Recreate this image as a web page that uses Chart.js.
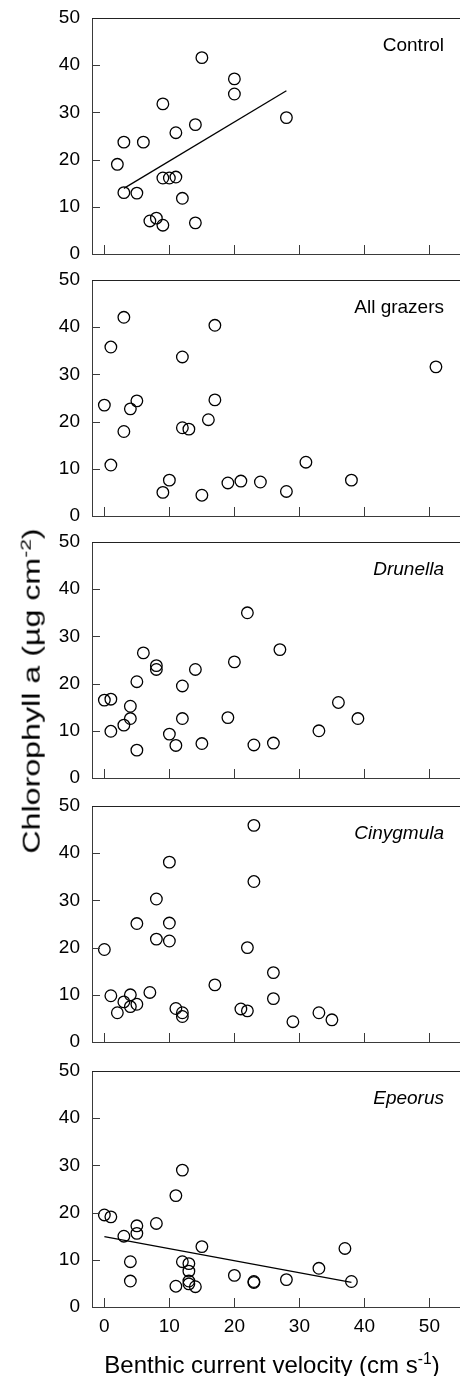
<!DOCTYPE html>
<html>
<head>
<meta charset="utf-8">
<script src="https://cdn.jsdelivr.net/npm/chart.js@4.4.0/dist/chart.umd.min.js"></script>
<style>
  body { margin: 0; background: #fff; }
  #wrap { position: relative; width: 460px; height: 1376px; overflow: hidden; font-family: "Liberation Sans", Arial, sans-serif; }
  canvas { position: absolute; left: 0; }
  .ytitle { position: absolute; left: 31px; top: 691px; font-size: 23px; white-space: nowrap;
            transform: translate(-50%, -50%) rotate(-90deg) scaleX(1.4); }
  .xtitle { position: absolute; left: 272px; top: 1364px; font-size: 24px; white-space: nowrap;
            transform: translate(-50%, -50%); }
  sup { font-size: 0.65em; }
</style>
</head>
<body>
<div id="wrap">
  <canvas id="c0" width="460" height="264" style="top:4px"></canvas>
  <canvas id="c1" width="460" height="264" style="top:266px"></canvas>
  <canvas id="c2" width="460" height="264" style="top:528px"></canvas>
  <canvas id="c3" width="460" height="264" style="top:792px"></canvas>
  <canvas id="c4" width="460" height="290" style="top:1057px"></canvas>
  <div class="ytitle">Chlorophyll a (µg cm<sup>-2</sup>)</div>
  <div class="xtitle">Benthic current velocity (cm s<sup>-1</sup>)</div>
</div>
<script>
// tick values
var xTicks = [0, 10, 20, 30, 40, 50];
var yTicks = [0, 10, 20, 30, 40, 50];

// Control
var controlX = [2, 3, 3, 5, 6, 7, 8, 9, 9, 9, 10, 11, 11, 12, 14, 14, 15, 20, 20, 28];
var controlY = [19.0, 23.7, 13.0, 12.9, 23.7, 7.0, 7.6, 6.1, 31.8, 16.1, 16.1, 16.3, 25.7, 11.8, 27.4, 6.6, 41.6, 37.1, 33.9, 28.9];
var controlFitX = [3, 28];
var controlFitY = [13.9, 34.6];

// All grazers
var grazersX = [0, 1, 1, 3, 3, 4, 5, 9, 10, 12, 12, 13, 15, 16, 17, 17, 19, 21, 24, 28, 31, 38, 51];
var grazersY = [23.5, 35.8, 10.8, 42.1, 17.9, 22.7, 24.4, 5.0, 7.6, 33.7, 18.7, 18.4, 4.4, 20.4, 40.4, 24.6, 7.0, 7.4, 7.2, 5.2, 11.4, 7.6, 31.6];

// Drunella
var drunellaX = [0, 1, 1, 3, 4, 4, 5, 5, 6, 8, 8, 10, 11, 12, 12, 14, 15, 19, 20, 22, 23, 26, 27, 33, 36, 39];
var drunellaY = [16.5, 16.7, 9.9, 11.2, 15.2, 12.6, 20.4, 5.9, 26.5, 23.8, 23.0, 9.3, 6.9, 19.5, 12.6, 23.0, 7.3, 12.8, 24.6, 35.0, 7.0, 7.4, 27.2, 10.0, 16.0, 12.6];

// Cinygmula
var cinygmulaX = [0, 1, 2, 3, 4, 4, 5, 5, 7, 8, 8, 10, 10, 10, 11, 12, 12, 17, 21, 22, 22, 23, 23, 26, 26, 29, 33, 35];
var cinygmulaY = [19.6, 9.8, 6.2, 8.5, 10.0, 7.5, 8.0, 25.1, 10.5, 30.3, 21.8, 38.1, 25.2, 21.4, 7.1, 6.2, 5.4, 12.1, 7.0, 20.0, 6.6, 45.9, 34.0, 14.7, 9.2, 4.3, 6.2, 4.7];

// Epeorus
var epeorusX = [0, 1, 3, 4, 4, 5, 5, 8, 11, 11, 12, 12, 13, 13, 13, 13, 14, 15, 20, 23, 23, 28, 33, 37, 38];
var epeorusY = [19.5, 19.1, 15.0, 9.6, 5.5, 17.2, 15.6, 17.7, 23.6, 4.4, 29.0, 9.6, 9.2, 7.6, 5.5, 4.9, 4.3, 12.8, 6.7, 5.4, 5.2, 5.8, 8.2, 12.4, 5.4];
var epeorusFitX = [0, 38];
var epeorusFitY = [14.9, 5.2];

var panels = [
  { id: 'c0', label: 'Control', italic: false, xs: controlX, ys: controlY, fitX: controlFitX, fitY: controlFitY },
  { id: 'c1', label: 'All grazers', italic: false, xs: grazersX, ys: grazersY },
  { id: 'c2', label: 'Drunella', italic: true, xs: drunellaX, ys: drunellaY },
  { id: 'c3', label: 'Cinygmula', italic: true, xs: cinygmulaX, ys: cinygmulaY },
  { id: 'c4', label: 'Epeorus', italic: true, xs: epeorusX, ys: epeorusY, fitX: epeorusFitX, fitY: epeorusFitY }
];

Chart.defaults.font.family = '"Liberation Sans", Arial, sans-serif';
Chart.defaults.color = '#000';

var AXIS = '#3a3a3a';

// inside tick marks, top frame line and panel name
var panelDeco = {
  id: 'panelDeco',
  afterDatasetsDraw: function (chart, args, opts) {
    var ctx = chart.ctx, a = chart.chartArea;
    var xs = chart.scales.x, ys = chart.scales.y;
    ctx.save();
    ctx.lineWidth = 1;
    ctx.strokeStyle = '#222';
    ctx.beginPath();
    ctx.moveTo(a.left, a.top + 0.5);
    ctx.lineTo(a.right, a.top + 0.5);
    ctx.stroke();
    ctx.strokeStyle = AXIS;
    ctx.beginPath();
    xTicks.forEach(function (v) {
      var px = Math.round(xs.getPixelForValue(v)) + 0.5;
      ctx.moveTo(px, a.bottom);
      ctx.lineTo(px, a.bottom - 9);
    });
    yTicks.slice(1, -1).forEach(function (v) {
      var py = Math.round(ys.getPixelForValue(v)) + 0.5;
      ctx.moveTo(a.left, py);
      ctx.lineTo(a.left + 8, py);
    });
    ctx.stroke();
    ctx.fillStyle = '#000';
    ctx.font = (opts.italic ? 'italic ' : '') + '19px "Liberation Sans", Arial, sans-serif';
    ctx.textAlign = 'right';
    ctx.textBaseline = 'middle';
    ctx.fillText(opts.text, 444, a.top + 28);
    ctx.restore();
  }
};

panels.forEach(function (p, i) {
  var last = i === panels.length - 1;
  var pts = p.xs.map(function (x, k) { return { x: x, y: p.ys[k] }; });
  var datasets = [{
    data: pts,
    pointStyle: 'circle',
    pointRadius: 5.8,
    pointHoverRadius: 5.8,
    borderWidth: 1.3,
    borderColor: '#000',
    backgroundColor: 'rgba(255,255,255,0)'
  }];
  if (p.fitX) {
    datasets.push({
      type: 'line',
      data: p.fitX.map(function (x, k) { return { x: x, y: p.fitY[k] }; }),
      showLine: true,
      pointRadius: 0,
      borderColor: '#000',
      borderWidth: 1.3,
      fill: false
    });
  }
  new Chart(document.getElementById(p.id), {
    type: 'scatter',
    data: { datasets: datasets },
    options: {
      responsive: false,
      animation: false,
      events: [],
      layout: { autoPadding: false, padding: { top: 14, left: 0, right: 0, bottom: 0 } },
      plugins: {
        legend: { display: false },
        tooltip: { enabled: false },
        panelDeco: { text: p.label, italic: p.italic }
      },
      scales: {
        x: {
          type: 'linear',
          min: -1.9,
          max: 54.7,
          afterBuildTicks: function (s) { s.ticks = xTicks.map(function (v) { return { value: v }; }); },
          afterFit: function (s) { s.height = last ? 40 : 14; s.paddingLeft = 0; s.paddingRight = 0; },
          grid: { drawOnChartArea: false, drawTicks: false },
          border: { color: AXIS, width: 1 },
          ticks: { display: last, padding: 8, font: { size: 19 }, color: '#000' }
        },
        y: {
          min: 0,
          max: 50,
          afterBuildTicks: function (s) { s.ticks = yTicks.map(function (v) { return { value: v }; }); },
          afterFit: function (s) { s.width = 92; s.paddingTop = 0; s.paddingBottom = 0; },
          grid: { drawOnChartArea: false, drawTicks: false },
          border: { color: AXIS, width: 1 },
          ticks: { padding: 12, font: { size: 19 }, color: '#000' }
        }
      }
    },
    plugins: [panelDeco]
  });
});
</script>
</body>
</html>
